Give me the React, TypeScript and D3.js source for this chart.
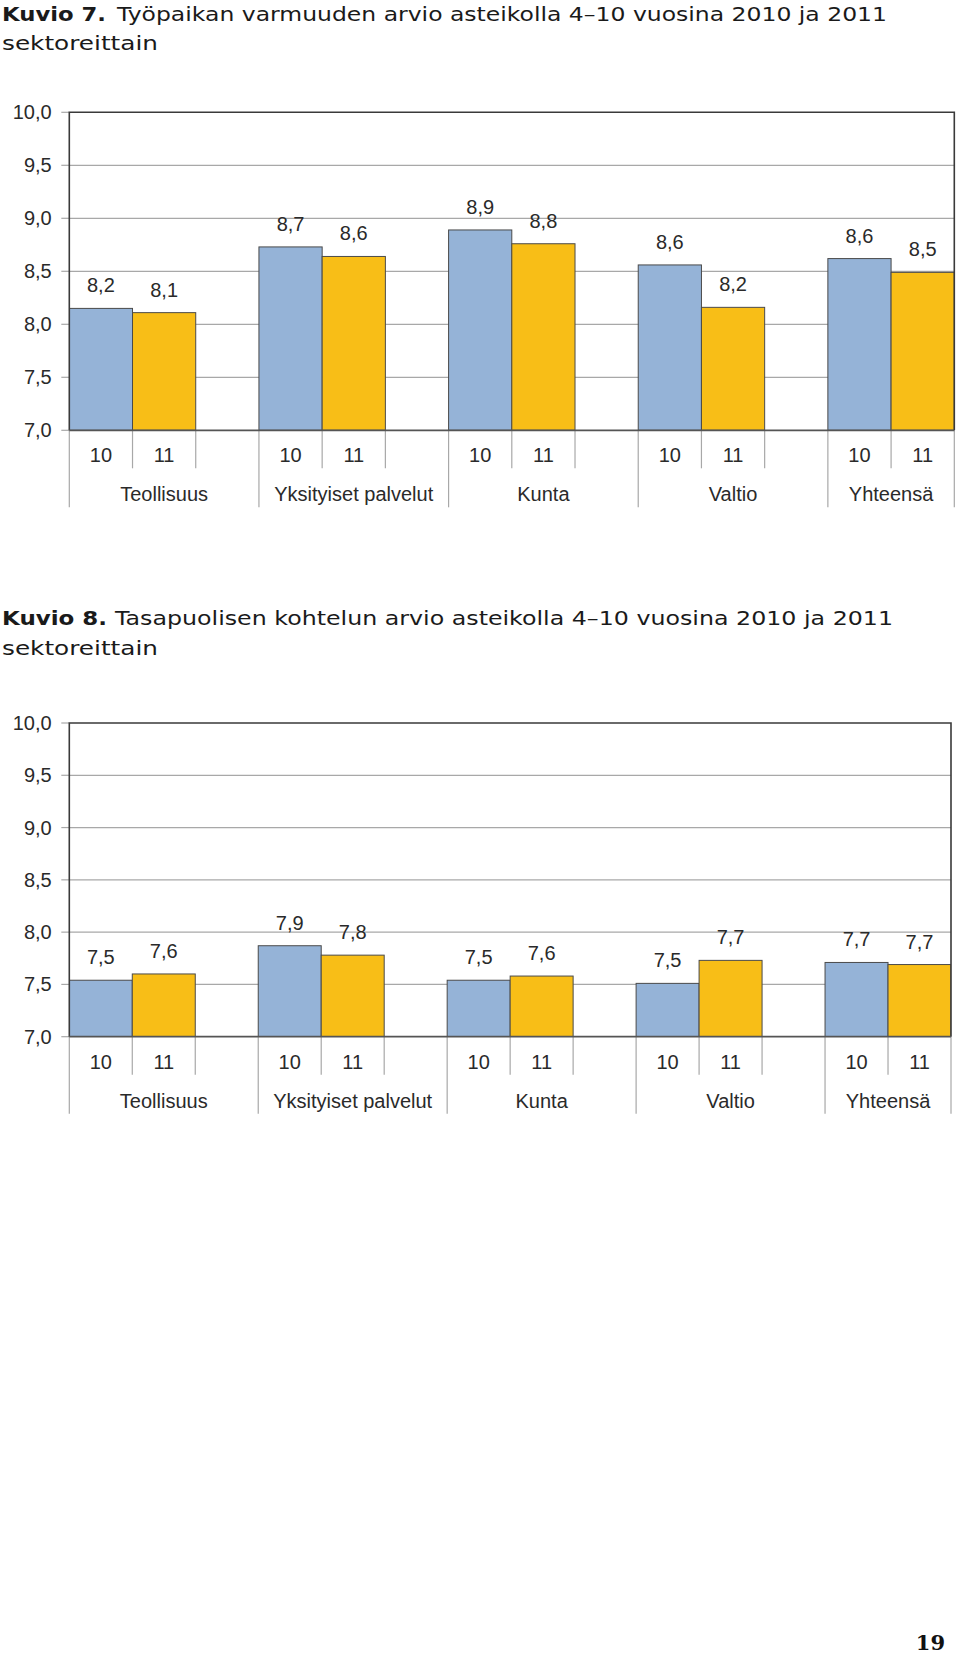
import React from "react";
import * as d3 from "d3";

const categories = ["Teollisuus", "Yksityiset palvelut", "Kunta", "Valtio", "Yhteensä"];
const seriesKeys = ["10", "11"];
const yTicks = [7.0, 7.5, 8.0, 8.5, 9.0, 9.5, 10.0];

const fig7Values2010 = [8.15, 8.73, 8.89, 8.56, 8.62];
const fig7Values2011 = [8.11, 8.64, 8.76, 8.16, 8.49];
const fig8Values2010 = [7.54, 7.87, 7.54, 7.51, 7.71];
const fig8Values2011 = [7.6, 7.78, 7.58, 7.73, 7.69];

const fig7Label = "Kuvio 7.";
const fig7Title = "Työpaikan varmuuden arvio asteikolla 4–10 vuosina 2010 ja 2011";
const fig8Label = "Kuvio 8.";
const fig8Title = "Tasapuolisen kohtelun arvio asteikolla 4–10 vuosina 2010 ja 2011";
const titleLine2 = "sektoreittain";
const pageNumber = "19";

const fiLocale = d3.formatLocale({ decimal: ",", thousands: " ", grouping: [3], currency: ["", "€"] });
const fmt = fiLocale.format(".1f");

const BLUE = "#95b3d7";
const YELLOW = "#f8be17";
const BAR_STROKE = "#4a4a4a";
const GRID = "#a8a8a8";
const FRAME = "#3a3a3a";
const TEXT = "#2a2a2a";
const FONT = "'Liberation Sans', Arial, Helvetica, sans-serif";
const TITLE_FONT = "'DejaVu Sans', 'Noto Sans', sans-serif";

type ChartProps = {
  label: string;
  title: string;
  labelEnd: number;
  titleStart: number;
  titleEnd: number;
  titleBase: number;
  plotTop: number;
  plotBottom: number;
  left: number;
  right: number;
  v10: number[];
  v11: number[];
};

function Chart(p: ChartProps) {
  const y = d3.scaleLinear().domain([7, 10]).range([p.plotBottom, p.plotTop]);
  const slot = (p.right - p.left) / 14;
  const x0 = d3.scaleBand<string>().domain(categories).range([p.left, p.left + slot * 15]);
  const x1 = d3
    .scaleBand<string>()
    .domain([...seriesKeys, "gap"])
    .range([0, x0.bandwidth()]);
  const series = [
    { key: "10", values: p.v10, fill: BLUE },
    { key: "11", values: p.v11, fill: YELLOW },
  ];
  const shortTick = 38;
  const longTick = 77;
  const yearBase = 32;
  const catBase = 71;
  const clipId = "clip" + p.plotTop;

  const sepLines: { x: number; long: boolean }[] = [];
  categories.forEach((c) => {
    const b = x0(c)!;
    sepLines.push({ x: b, long: true });
    sepLines.push({ x: b + x1("11")!, long: false });
    const ge = b + x1("gap")!;
    if (ge < p.right - 1) sepLines.push({ x: ge, long: false });
  });
  sepLines.push({ x: p.right, long: true });

  return (
    <g>
      <text x={2} y={p.titleBase} fontFamily={TITLE_FONT} fontWeight="bold" fontSize={19} fill="#1a1a1a"
        textLength={p.labelEnd - 2} lengthAdjust="spacingAndGlyphs">
        {p.label}
      </text>
      <text x={p.titleStart} y={p.titleBase} fontFamily={TITLE_FONT} fontSize={19} fill="#1a1a1a"
        textLength={p.titleEnd - p.titleStart} lengthAdjust="spacingAndGlyphs">
        {p.title}
      </text>
      <text x={2} y={p.titleBase + 29.5} fontFamily={TITLE_FONT} fontSize={19} fill="#1a1a1a"
        textLength={156} lengthAdjust="spacingAndGlyphs">
        {titleLine2}
      </text>

      <defs>
        <clipPath id={clipId}>
          <rect x={p.left} y={p.plotTop - 60} width={p.right - p.left} height={p.plotBottom - p.plotTop + 60} />
        </clipPath>
      </defs>

      {/* gridlines */}
      {yTicks.slice(1, -1).map((t) => (
        <line key={"g" + t} x1={p.left} x2={p.right} y1={y(t)} y2={y(t)} stroke={GRID} strokeWidth={1.2} />
      ))}
      {/* y ticks & labels */}
      {yTicks.map((t) => (
        <g key={"t" + t}>
          <line x1={p.left - 8} x2={p.left} y1={y(t)} y2={y(t)} stroke={GRID} strokeWidth={1.2} />
          <text x={51.7} y={y(t) + 7} textAnchor="end" fontFamily={FONT} fontSize={20} fill={TEXT}>
            {fmt(t)}
          </text>
        </g>
      ))}

      {/* bars */}
      <g clipPath={`url(#${clipId})`}>
        {categories.map((c, i) =>
          series.map((s) => {
            const bx = x0(c)! + x1(s.key)!;
            const v = s.values[i];
            return (
              <rect key={c + s.key} x={bx} y={y(v)} width={x1.bandwidth()} height={y(7) - y(v)}
                fill={s.fill} stroke={BAR_STROKE} strokeWidth={1} />
            );
          })
        )}
      </g>
      {categories.map((c, i) =>
        series.map((s) => {
          const cx = x0(c)! + x1(s.key)! + x1.bandwidth() / 2;
          const v = s.values[i];
          return (
            <text key={"l" + c + s.key} x={cx} y={y(v) - 16} textAnchor="middle" fontFamily={FONT}
              fontSize={20} fill={TEXT}>
              {fmt(v)}
            </text>
          );
        })
      )}

      {/* x-axis separators */}
      {sepLines.map((l, i) => (
        <line key={"s" + i} x1={l.x} x2={l.x} y1={p.plotBottom} y2={p.plotBottom + (l.long ? longTick : shortTick)}
          stroke={GRID} strokeWidth={1.2} />
      ))}
      {categories.map((c) =>
        seriesKeys.map((k) => (
          <text key={"y" + c + k} x={x0(c)! + x1(k)! + x1.bandwidth() / 2} y={p.plotBottom + yearBase}
            textAnchor="middle" fontFamily={FONT} fontSize={20} fill={TEXT}>
            {k}
          </text>
        ))
      )}
      {categories.map((c) => {
        const b = x0(c)!;
        const e = Math.min(b + x0.bandwidth(), p.right);
        return (
          <text key={"c" + c} x={(b + e) / 2} y={p.plotBottom + catBase} textAnchor="middle" fontFamily={FONT}
            fontSize={20} fill={TEXT}>
            {c}
          </text>
        );
      })}

      {/* frame */}
      <path
        d={`M${p.left},${p.plotBottom} V${p.plotTop} H${p.right} V${p.plotBottom}`}
        fill="none" stroke={FRAME} strokeWidth={1.6} />
      <line x1={p.left} x2={p.right} y1={p.plotBottom} y2={p.plotBottom} stroke="#555" strokeWidth={1.8} />
    </g>
  );
}

export default function App() {
  return (
    <svg width={960} height={1654} style={{ position: "absolute", left: 0, top: 0, background: "#fff" }}>
      <rect width={960} height={1654} fill="#fff" />
      <Chart label={fig7Label} title={fig7Title} labelEnd={106} titleStart={117} titleEnd={887} titleBase={20.7}
        plotTop={112.3} plotBottom={430.3} left={69.3} right={954.3} v10={fig7Values2010} v11={fig7Values2011} />
      <Chart label={fig8Label} title={fig8Title} labelEnd={107} titleStart={115} titleEnd={893} titleBase={625}
        plotTop={723} plotBottom={1036.7} left={69.3} right={951} v10={fig8Values2010} v11={fig8Values2011} />
      <text x={945} y={1650} textAnchor="end" fontFamily="'DejaVu Serif', 'Liberation Serif', serif"
        fontWeight="bold" fontSize={21} fill="#111">
        {pageNumber}
      </text>
    </svg>
  );
}
